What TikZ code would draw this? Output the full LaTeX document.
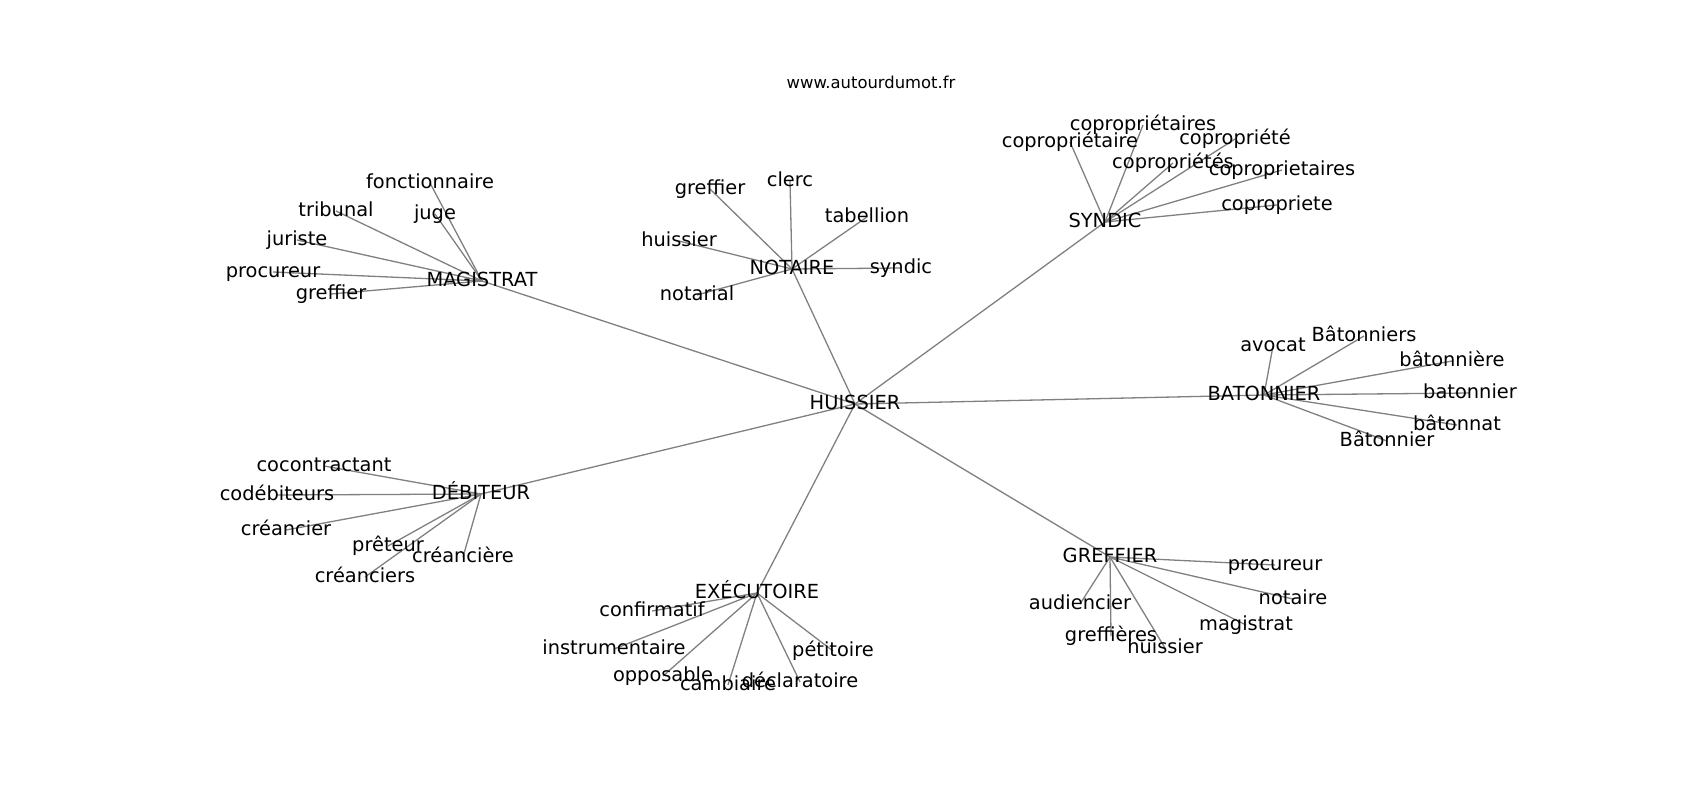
\documentclass[tikz,border=0pt]{standalone}
\usepackage{fontspec}
\setmainfont{DejaVu Sans}
\usetikzlibrary{backgrounds}
\tikzstyle{word} = [inner sep=0pt, text height=14.7pt, text depth=4.1pt, font=\fontsize{19.4}{23}\selectfont]
\tikzstyle{site} = [inner sep=0pt, text height=12.4pt, text depth=3.4pt, font=\fontsize{16.4}{19}\selectfont]
\tikzstyle{link} = [draw=gray, line width=1.3pt]
\begin{document}
\begin{tikzpicture}[x=1pt, y=-1pt]
		\useasboundingbox (0,0) rectangle (1700,800);
		\node (site) [site] at (871,84) {www.autourdumot.fr};
		% centre and hubs
		\node (huissier) [word] at (855,404) {HUISSIER};
		\node (magistrat) [word] at (482,281) {MAGISTRAT};
		\node (notaire) [word] at (792,269) {NOTAIRE};
		\node (syndic) [word] at (1105,222) {SYNDIC};
		\node (batonnier) [word] at (1264,395) {BATONNIER};
		\node (debiteur) [word] at (481,494) {DÉBITEUR};
		\node (executoire) [word] at (757,593) {EXÉCUTOIRE};
		\node (greffier) [word] at (1110,557) {GREFFIER};
		% magistrat
		\node (fonction) [word] at (430,183) {fonctionnaire};
		\node (juge) [word] at (435,214) {juge};
		\node (tribunal) [word] at (336,211) {tribunal};
		\node (juriste) [word] at (297,240) {juriste};
		\node (mprocureur) [word] at (273,272) {procureur};
		\node (mgreffier) [word] at (331,294) {greffier};
		% notaire
		\node (ngreffier) [word] at (710,189) {greffier};
		\node (clerc) [word] at (790,181) {clerc};
		\node (tabellion) [word] at (867,217) {tabellion};
		\node (nhuissier) [word] at (679,241) {huissier};
		\node (nsyndic) [word] at (901,268) {syndic};
		\node (notarial) [word] at (697,295) {notarial};
		% syndic
		\node (coproprietaire) [word] at (1070,142) {copropriétaire};
		\node (coproprietaires) [word] at (1143,125) {copropriétaires};
		\node (coproprietes) [word] at (1173,163) {copropriétés};
		\node (copropriete) [word] at (1235,139) {copropriété};
		\node (coproprietairesb) [word] at (1282,170) {coproprietaires};
		\node (coproprieteb) [word] at (1277,205) {copropriete};
		% batonnier
		\node (avocat) [word] at (1273,346) {avocat};
		\node (batonniers) [word] at (1364,336) {Bâtonniers};
		\node (batonniere) [word] at (1452,361) {bâtonnière};
		\node (batonnierb) [word] at (1470,393) {batonnier};
		\node (batonnat) [word] at (1457,425) {bâtonnat};
		\node (batonnierc) [word] at (1387,441) {Bâtonnier};
		% debiteur
		\node (cocontractant) [word] at (324,466) {cocontractant};
		\node (codebiteurs) [word] at (277,495) {codébiteurs};
		\node (creancier) [word] at (286,530) {créancier};
		\node (preteur) [word] at (388,546) {prêteur};
		\node (creanciers) [word] at (365,577) {créanciers};
		\node (creanciere) [word] at (463,557) {créancière};
		% executoire
		\node (confirmatif) [word] at (652,611) {confirmatif};
		\node (instrumentaire) [word] at (614,649) {instrumentaire};
		\node (opposable) [word] at (663,676) {opposable};
		\node (cambiaire) [word] at (728,685) {cambiaire};
		\node (declaratoire) [word] at (800,682) {déclaratoire};
		\node (petitoire) [word] at (833,651) {pétitoire};
		% greffier
		\node (gprocureur) [word] at (1275,565) {procureur};
		\node (gnotaire) [word] at (1293,599) {notaire};
		\node (gmagistrat) [word] at (1246,625) {magistrat};
		\node (ghuissier) [word] at (1165,648) {huissier};
		\node (greffieres) [word] at (1111,636) {greffières};
		\node (audiencier) [word] at (1080,604) {audiencier};
		\begin{scope}[on background layer]
		\draw [link] (huissier.center) -- (magistrat.center);
		\draw [link] (huissier.center) -- (notaire.center);
		\draw [link] (huissier.center) -- (syndic.center);
		\draw [link] (huissier.center) -- (batonnier.center);
		\draw [link] (huissier.center) -- (debiteur.center);
		\draw [link] (huissier.center) -- (executoire.center);
		\draw [link] (huissier.center) -- (greffier.center);
		\draw [link] (magistrat.center) -- (fonction.center);
		\draw [link] (magistrat.center) -- (juge.center);
		\draw [link] (magistrat.center) -- (tribunal.center);
		\draw [link] (magistrat.center) -- (juriste.center);
		\draw [link] (magistrat.center) -- (mprocureur.center);
		\draw [link] (magistrat.center) -- (mgreffier.center);
		\draw [link] (notaire.center) -- (ngreffier.center);
		\draw [link] (notaire.center) -- (clerc.center);
		\draw [link] (notaire.center) -- (tabellion.center);
		\draw [link] (notaire.center) -- (nhuissier.center);
		\draw [link] (notaire.center) -- (nsyndic.center);
		\draw [link] (notaire.center) -- (notarial.center);
		\draw [link] (syndic.center) -- (coproprietaire.center);
		\draw [link] (syndic.center) -- (coproprietaires.center);
		\draw [link] (syndic.center) -- (coproprietes.center);
		\draw [link] (syndic.center) -- (copropriete.center);
		\draw [link] (syndic.center) -- (coproprietairesb.center);
		\draw [link] (syndic.center) -- (coproprieteb.center);
		\draw [link] (batonnier.center) -- (avocat.center);
		\draw [link] (batonnier.center) -- (batonniers.center);
		\draw [link] (batonnier.center) -- (batonniere.center);
		\draw [link] (batonnier.center) -- (batonnierb.center);
		\draw [link] (batonnier.center) -- (batonnat.center);
		\draw [link] (batonnier.center) -- (batonnierc.center);
		\draw [link] (debiteur.center) -- (cocontractant.center);
		\draw [link] (debiteur.center) -- (codebiteurs.center);
		\draw [link] (debiteur.center) -- (creancier.center);
		\draw [link] (debiteur.center) -- (preteur.center);
		\draw [link] (debiteur.center) -- (creanciers.center);
		\draw [link] (debiteur.center) -- (creanciere.center);
		\draw [link] (executoire.center) -- (confirmatif.center);
		\draw [link] (executoire.center) -- (instrumentaire.center);
		\draw [link] (executoire.center) -- (opposable.center);
		\draw [link] (executoire.center) -- (cambiaire.center);
		\draw [link] (executoire.center) -- (declaratoire.center);
		\draw [link] (executoire.center) -- (petitoire.center);
		\draw [link] (greffier.center) -- (gprocureur.center);
		\draw [link] (greffier.center) -- (gnotaire.center);
		\draw [link] (greffier.center) -- (gmagistrat.center);
		\draw [link] (greffier.center) -- (ghuissier.center);
		\draw [link] (greffier.center) -- (greffieres.center);
		\draw [link] (greffier.center) -- (audiencier.center);
		\end{scope}
	\end{tikzpicture}
\end{document}
